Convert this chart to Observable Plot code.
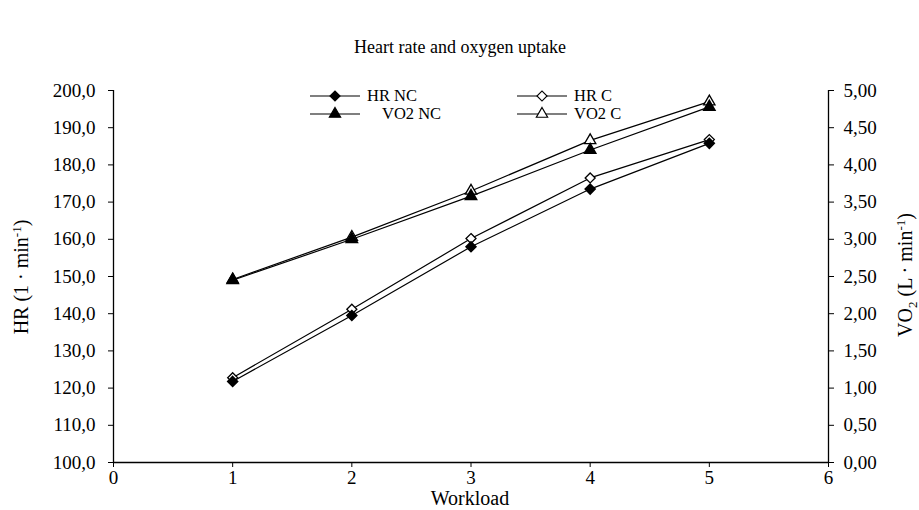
<!DOCTYPE html>
<html><head><meta charset="utf-8">
<script src="https://cdn.jsdelivr.net/npm/d3@7"></script>
<script src="https://cdn.jsdelivr.net/npm/@observablehq/plot@0.6"></script>
<style>body{margin:0;background:#fff}#c{position:relative;width:919px;height:510px}</style>
</head><body><div id="c"></div>
<script>
const workload = [1, 2, 3, 4, 5];
const hrNC = [121.8, 139.5, 158.0, 173.5, 185.8];
const hrC = [122.8, 141.2, 160.2, 176.5, 186.8];
const vo2NC = [2.45, 3.00, 3.58, 4.20, 4.78];
const vo2C = [2.46, 3.03, 3.65, 4.33, 4.85];
const xTicks = [0, 1, 2, 3, 4, 5, 6];
const hrTicks = [100, 110, 120, 130, 140, 150, 160, 170, 180, 190, 200];
const vo2Ticks = [0, 0.5, 1, 1.5, 2, 2.5, 3, 3.5, 4, 4.5, 5];

const toHR = v => 100 + v * 20; // map VO2 onto the left scale
const fmt1 = d3.format(".1f"), fmt2 = d3.format(".2f");
const comma = s => s.replace(".", ",");

const rows = (ys, conv) => workload.map((w, i) => ({x: w, y: conv ? conv(ys[i]) : ys[i]}));
const dNC = rows(hrNC), dC = rows(hrC), vNC = rows(vo2NC, toHR), vC = rows(vo2C, toHR);

const font = "Liberation Serif, Times New Roman, serif";
const plot = Plot.plot({
  width: 919, height: 510,
  marginLeft: 113, marginRight: 91, marginTop: 90, marginBottom: 48,
  style: {fontFamily: font, fontSize: "19px", color: "#000", background: "#fff"},
  x: {domain: [0, 6]},
  y: {domain: [100, 200]},
  marks: [
    Plot.ruleY([100], {stroke: "#000", strokeWidth: 1.3}),
    Plot.ruleX([0], {stroke: "#000", strokeWidth: 1.3}),
    Plot.ruleX([6], {stroke: "#000", strokeWidth: 1.3}),
    Plot.axisX({ticks: xTicks, tickSize: 5, tickPadding: 3, tickFormat: d => d, label: null, fontSize: 19}),
    Plot.axisY({ticks: hrTicks, tickSize: 5, tickPadding: 13, tickFormat: d => comma(fmt1(d)), label: null, fontSize: 19}),
    Plot.axisY({anchor: "right", ticks: vo2Ticks.map(toHR), tickSize: 5, tickPadding: 10,
      tickFormat: d => comma(fmt2((d - 100) / 20)), label: null, fontSize: 19}),
    Plot.line(dNC, {x: "x", y: "y", stroke: "#000", strokeWidth: 1.2}),
    Plot.line(dC, {x: "x", y: "y", stroke: "#000", strokeWidth: 1.2}),
    Plot.line(vNC, {x: "x", y: "y", stroke: "#000", strokeWidth: 1.2}),
    Plot.line(vC, {x: "x", y: "y", stroke: "#000", strokeWidth: 1.2}),
    Plot.dot(dC, {x: "x", y: "y", symbol: "diamond2", r: 4.5, fill: "#fff", stroke: "#000", strokeWidth: 1.3}),
    Plot.dot(dNC, {x: "x", y: "y", symbol: "diamond2", r: 4.5, fill: "#000", stroke: "#000"}),
    Plot.dot(vC, {x: "x", y: "y", symbol: "triangle", r: 4.2, fill: "#fff", stroke: "#000", strokeWidth: 1.3}),
    Plot.dot(vNC, {x: "x", y: "y", symbol: "triangle", r: 4.2, fill: "#000", stroke: "#000"})
  ]
});
document.getElementById("c").appendChild(plot);

const svg = d3.select(plot);
const T = (x, y, s, opts = {}) => svg.append("text").attr("x", x).attr("y", y)
  .attr("font-family", font).attr("font-size", opts.size || 19).attr("text-anchor", opts.anchor || "start")
  .attr("fill", "#000").text(s);

T(460, 53, "Heart rate and oxygen uptake", {size: 18, anchor: "middle"});
T(470, 505, "Workload", {size: 20, anchor: "middle"});

// left axis label
const lt = svg.append("text").attr("transform", "translate(28,277) rotate(-90)")
  .attr("text-anchor", "middle").attr("font-family", font).attr("font-size", 20).attr("fill", "#000");
lt.append("tspan").text("HR (1 · min");
lt.append("tspan").attr("font-size", 13).attr("dy", -7).text("-1");
lt.append("tspan").attr("dy", 7).text(")");

// right axis label
const rt = svg.append("text").attr("transform", "translate(912,275) rotate(-90)")
  .attr("text-anchor", "middle").attr("font-family", font).attr("font-size", 20).attr("fill", "#000");
rt.append("tspan").text("VO");
rt.append("tspan").attr("font-size", 13).attr("dy", 5).text("2");
rt.append("tspan").attr("dy", -5).text(" (L · min");
rt.append("tspan").attr("font-size", 13).attr("dy", -7).text("-1");
rt.append("tspan").attr("dy", 7).text(")");

// legend
const legend = [
  {x: 310, y: 96, label: "HR NC", sym: d3.symbolSquare, rot: 45, fill: "#000", tx: 367},
  {x: 517, y: 96, label: "HR C", sym: d3.symbolSquare, rot: 45, fill: "#fff", tx: 574},
  {x: 310, y: 114, label: "VO2 NC", sym: d3.symbolTriangle, rot: 0, fill: "#000", tx: 382},
  {x: 517, y: 114, label: "VO2 C", sym: d3.symbolTriangle, rot: 0, fill: "#fff", tx: 574}
];
for (const l of legend) {
  svg.append("line").attr("x1", l.x).attr("x2", l.x + 50).attr("y1", l.y).attr("y2", l.y)
    .attr("stroke", "#000").attr("stroke-width", 1.2);
  svg.append("path").attr("d", d3.symbol(l.sym, l.rot ? 50 : 55)())
    .attr("transform", `translate(${l.x + 25},${l.y}) rotate(${l.rot})`)
    .attr("fill", l.fill).attr("stroke", "#000").attr("stroke-width", 1.2);
  T(l.tx, l.y + 5, l.label, {size: 16.5});
}
</script></body></html>
